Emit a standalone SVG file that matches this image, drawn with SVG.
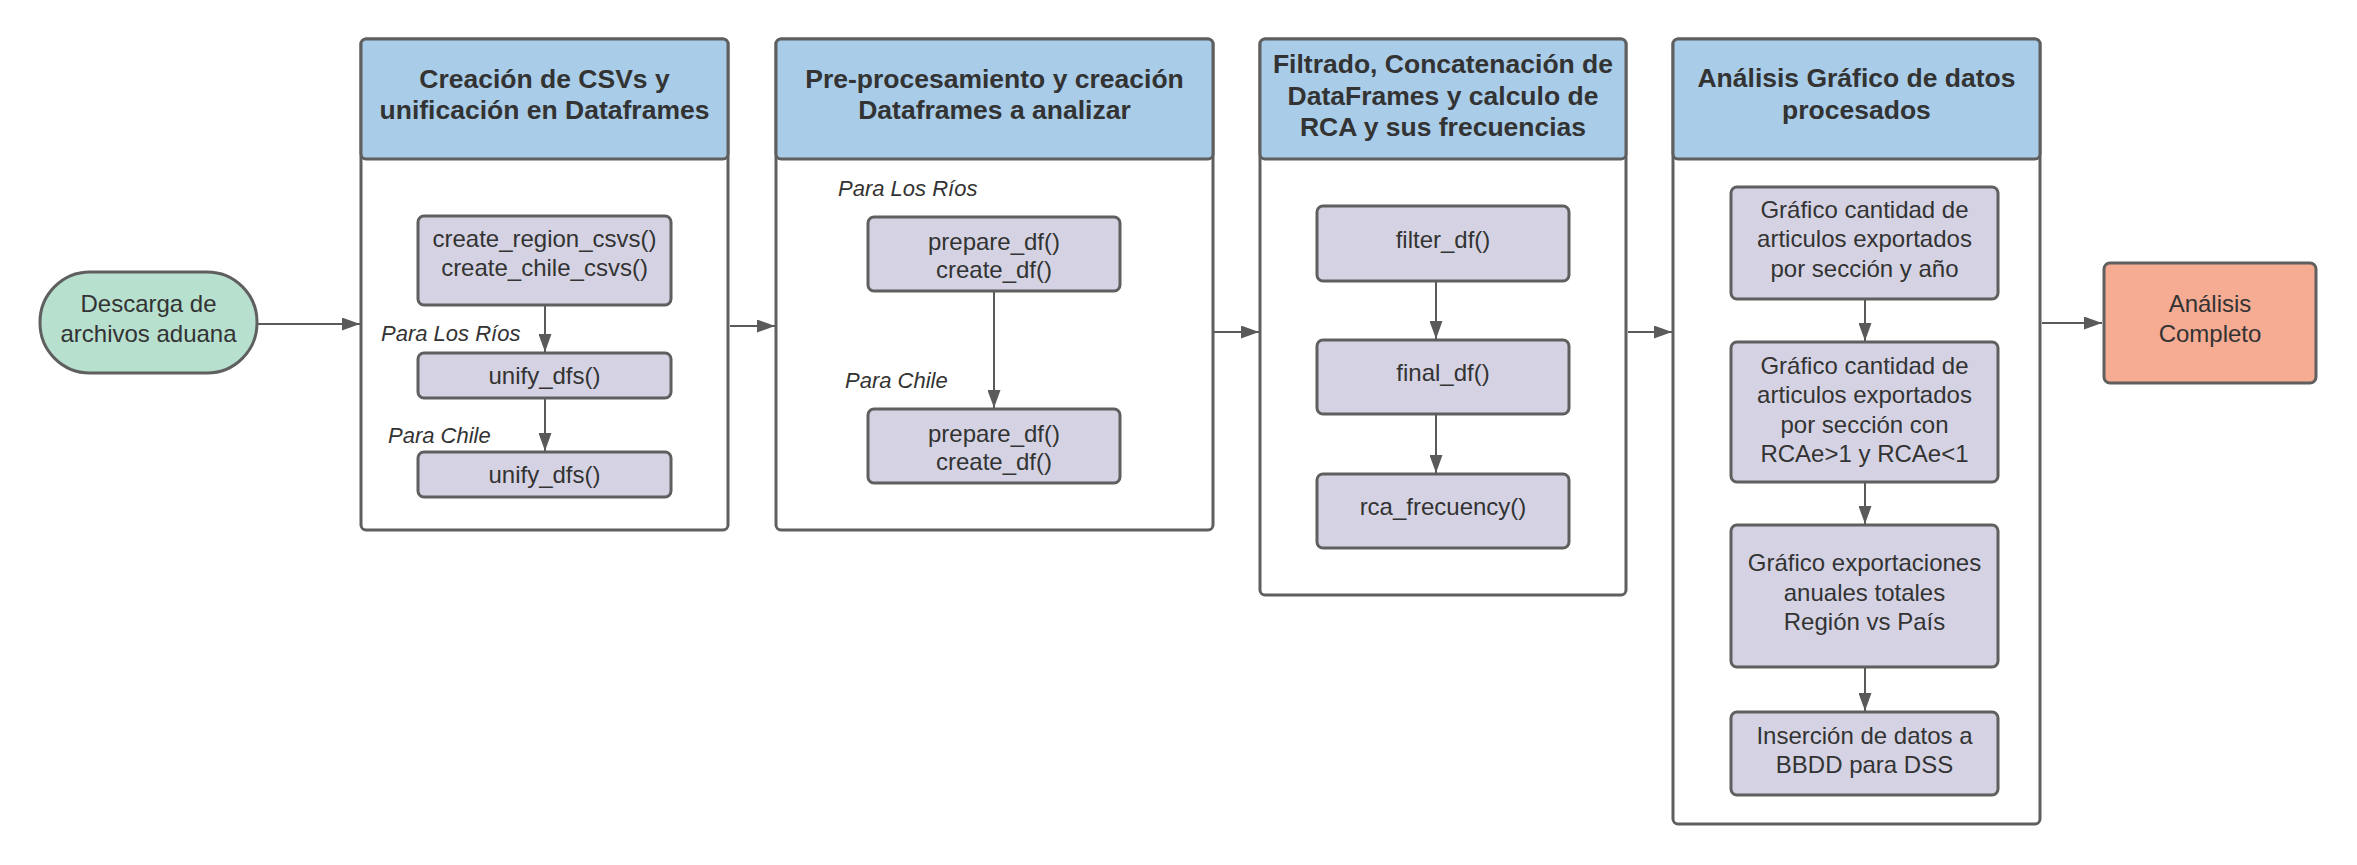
<svg xmlns="http://www.w3.org/2000/svg" width="2357" height="865" viewBox="0 0 2357 865">
<style>
text{font-family:"Liberation Sans",Arial,sans-serif;fill:#333333;text-anchor:middle}
.h{font-size:26.5px;font-weight:bold}
.t{font-size:24px}
.lab{font-size:22px;font-style:italic;text-anchor:start}
.panel{fill:#ffffff;stroke:#5f5f5f;stroke-width:3}
.head{fill:#a9cce8;stroke:#5f5f5f;stroke-width:3}
.box{fill:#d5d3e3;stroke:#5f5f5f;stroke-width:3}
.c{fill:none;stroke:#5a5a5a;stroke-width:2}
</style>
<defs>
<marker id="ah" markerUnits="userSpaceOnUse" markerWidth="18" markerHeight="13" refX="18" refY="6.5" orient="auto">
<path d="M0,0 L18,6.5 L0,13 z" fill="#5a5a5a"/>
</marker>
</defs>
<rect width="2357" height="865" fill="#ffffff"/>

<g id="start">
<rect x="40" y="272" width="217" height="101" rx="50" ry="50" fill="#b7e0cf" stroke="#5f5f5f" stroke-width="3"/>
<text class="t" x="148.5" y="312">Descarga de</text>
<text class="t" x="148.5" y="342">archivos aduana</text>
</g>

<g id="panel1">
<rect class="panel" x="361" y="39" width="367" height="491" rx="5"/>
<rect class="head" x="361" y="39" width="367" height="120" rx="5"/>
<text class="h" x="544.5" y="88">Creación de CSVs y</text>
<text class="h" x="544.5" y="119">unificación en Dataframes</text>
</g>
<g id="p1_create">
<rect class="box" x="418" y="216" width="253" height="89" rx="6"/>
<text class="t" x="544.5" y="247">create_region_csvs()</text>
<text class="t" x="544.5" y="276">create_chile_csvs()</text>
</g>
<text class="lab" x="381" y="341">Para Los Ríos</text>
<g id="p1_unify1">
<rect class="box" x="418" y="353" width="253" height="45" rx="6"/>
<text class="t" x="544.5" y="384">unify_dfs()</text>
</g>
<text class="lab" x="388" y="443">Para Chile</text>
<g id="p1_unify2">
<rect class="box" x="418" y="452" width="253" height="45" rx="6"/>
<text class="t" x="544.5" y="483">unify_dfs()</text>
</g>

<g id="panel2">
<rect class="panel" x="776" y="39" width="437" height="491" rx="5"/>
<rect class="head" x="776" y="39" width="437" height="120" rx="5"/>
<text class="h" x="994.5" y="88">Pre-procesamiento y creación</text>
<text class="h" x="994.5" y="119">Dataframes a analizar</text>
</g>
<text class="lab" x="838" y="196">Para Los Ríos</text>
<g id="p2_rios">
<rect class="box" x="868" y="217" width="252" height="74" rx="6"/>
<text class="t" x="994" y="250">prepare_df()</text>
<text class="t" x="994" y="278">create_df()</text>
</g>
<text class="lab" x="845" y="388">Para Chile</text>
<g id="p2_chile">
<rect class="box" x="868" y="409" width="252" height="74" rx="6"/>
<text class="t" x="994" y="442">prepare_df()</text>
<text class="t" x="994" y="470">create_df()</text>
</g>

<g id="panel3">
<rect class="panel" x="1260" y="39" width="366" height="556" rx="5"/>
<rect class="head" x="1260" y="39" width="366" height="120" rx="5"/>
<text class="h" x="1443" y="73">Filtrado, Concatenación de</text>
<text class="h" x="1443" y="105">DataFrames y calculo de</text>
<text class="h" x="1443" y="136">RCA y sus frecuencias</text>
</g>
<g id="p3_filter">
<rect class="box" x="1317" y="206" width="252" height="75" rx="6"/>
<text class="t" x="1443" y="248">filter_df()</text>
</g>
<g id="p3_final">
<rect class="box" x="1317" y="340" width="252" height="74" rx="6"/>
<text class="t" x="1443" y="381">final_df()</text>
</g>
<g id="p3_rca">
<rect class="box" x="1317" y="474" width="252" height="74" rx="6"/>
<text class="t" x="1443" y="515">rca_frecuency()</text>
</g>

<g id="panel4">
<rect class="panel" x="1673" y="39" width="367" height="785" rx="5"/>
<rect class="head" x="1673" y="39" width="367" height="120" rx="5"/>
<text class="h" x="1856.5" y="87">Análisis Gráfico de datos</text>
<text class="h" x="1856.5" y="119">procesados</text>
</g>
<g id="p4_g1">
<rect class="box" x="1731" y="187" width="267" height="112" rx="6"/>
<text class="t" x="1864.5" y="218">Gráfico cantidad de</text>
<text class="t" x="1864.5" y="247">articulos exportados</text>
<text class="t" x="1864.5" y="277">por sección y año</text>
</g>
<g id="p4_g2">
<rect class="box" x="1731" y="342" width="267" height="140" rx="6"/>
<text class="t" x="1864.5" y="374">Gráfico cantidad de</text>
<text class="t" x="1864.5" y="403">articulos exportados</text>
<text class="t" x="1864.5" y="433">por sección con</text>
<text class="t" x="1864.5" y="462">RCAe&gt;1 y RCAe&lt;1</text>
</g>
<g id="p4_g3">
<rect class="box" x="1731" y="525" width="267" height="142" rx="6"/>
<text class="t" x="1864.5" y="571">Gráfico exportaciones</text>
<text class="t" x="1864.5" y="601">anuales totales</text>
<text class="t" x="1864.5" y="630">Región vs País</text>
</g>
<g id="p4_g4">
<rect class="box" x="1731" y="712" width="267" height="83" rx="6"/>
<text class="t" x="1864.5" y="744">Inserción de datos a</text>
<text class="t" x="1864.5" y="773">BBDD para DSS</text>
</g>

<g id="end">
<rect x="2104" y="263" width="212" height="120" rx="6" fill="#f6ab93" stroke="#5f5f5f" stroke-width="3"/>
<text class="t" x="2210" y="312">Análisis</text>
<text class="t" x="2210" y="342">Completo</text>
</g>

<g id="connectors">
<path class="c" d="M258,324 L360,324" marker-end="url(#ah)"/>
<path class="c" d="M730,326 L775,326" marker-end="url(#ah)"/>
<path class="c" d="M1214,332 L1259,332" marker-end="url(#ah)"/>
<path class="c" d="M1628,332 L1672,332" marker-end="url(#ah)"/>
<path class="c" d="M2042,323 L2102,323" marker-end="url(#ah)"/>
<path class="c" d="M545,306 L545,352" marker-end="url(#ah)"/>
<path class="c" d="M545,399 L545,451" marker-end="url(#ah)"/>
<path class="c" d="M994,292 L994,408" marker-end="url(#ah)"/>
<path class="c" d="M1436,282 L1436,339" marker-end="url(#ah)"/>
<path class="c" d="M1436,415 L1436,473" marker-end="url(#ah)"/>
<path class="c" d="M1865,300 L1865,341" marker-end="url(#ah)"/>
<path class="c" d="M1865,483 L1865,524" marker-end="url(#ah)"/>
<path class="c" d="M1865,668 L1865,711" marker-end="url(#ah)"/>
</g>
</svg>
